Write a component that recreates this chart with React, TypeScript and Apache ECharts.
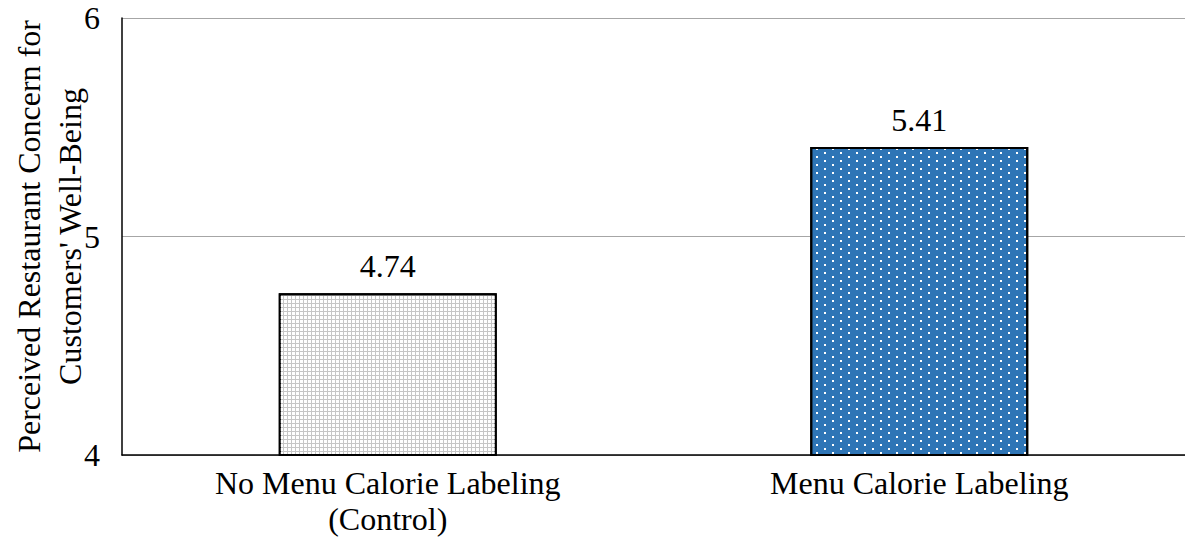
import React, { useEffect, useRef } from "react";
import * as echarts from "echarts";

const categories = ["No Menu Calorie Labeling\n(Control)", "Menu Calorie Labeling"];
const values = [4.74, 5.41];
const yAxisName = "Perceived Restaurant Concern for\nCustomers' Well-Being";
const FONT = "Liberation Serif";

export default function App() {
  const ref = useRef<HTMLDivElement>(null);
  useEffect(() => {
    if (!ref.current) return;
    const chart = echarts.init(ref.current, undefined, { renderer: "svg" });
    chart.setOption({
      animation: false,
      aria: { enabled: true, decal: { show: true } },
      grid: { left: 122, right: 0, top: 18, bottom: 93, outerBoundsMode: "none", containLabel: false },
      xAxis: {
        type: "category",
        data: categories,
        axisLine: { lineStyle: { color: "#000", width: 1.5 } },
        axisTick: { show: false },
        axisLabel: {
          color: "#000",
          fontFamily: FONT,
          fontSize: 32,
          lineHeight: 36,
          margin: 10,
        },
      },
      yAxis: {
        type: "value",
        min: 4,
        max: 6,
        interval: 1,
        name: yAxisName,
        nameLocation: "middle",
        nameGap: 32,
        nameMoveOverlap: false,
        nameTextStyle: {
          color: "#000",
          fontFamily: FONT,
          fontSize: 32,
          lineHeight: 41,
        },
        axisLine: { show: true, lineStyle: { color: "#000", width: 1.5 } },
        axisTick: { show: false },
        splitLine: { lineStyle: { color: "#a6a6a6", width: 1.2 } },
        axisLabel: {
          color: "#000",
          fontFamily: FONT,
          fontSize: 32,
          margin: 22,
        },
      },
      series: [
        {
          type: "bar",
          barWidth: 218,
          data: [
            {
              value: values[0],
              itemStyle: {
                color: "#c6c6c6",
                borderColor: "#000",
                borderWidth: 2,
                decal: {
                  symbol: "rect",
                  symbolSize: 1,
                  color: "#ffffff",
                  dashArrayX: [3, 1],
                  dashArrayY: [3, 1],
                  rotation: 0,
                },
              },
            },
            {
              value: values[1],
              itemStyle: {
                color: "#2e75b6",
                borderColor: "#000",
                borderWidth: 2,
                decal: {
                  symbol: "rect",
                  symbolSize: 1,
                  color: "#ffffff",
                  dashArrayX: [
                    [2, 14],
                    [0, 8, 2, 6],
                  ],
                  dashArrayY: [2, 2],
                  rotation: 0,
                },
              },
            },
          ],
          label: {
            show: true,
            position: "top",
            distance: 11,
            color: "#000",
            fontFamily: FONT,
            fontSize: 32,
            formatter: (p: any) => p.value.toFixed(2),
          },
        },
      ],
    });
    return () => chart.dispose();
  }, []);
  return (
    <div
      ref={ref}
      style={{ position: "fixed", left: 0, top: 0, width: 1185, height: 548, background: "#fff" }}
    />
  );
}
